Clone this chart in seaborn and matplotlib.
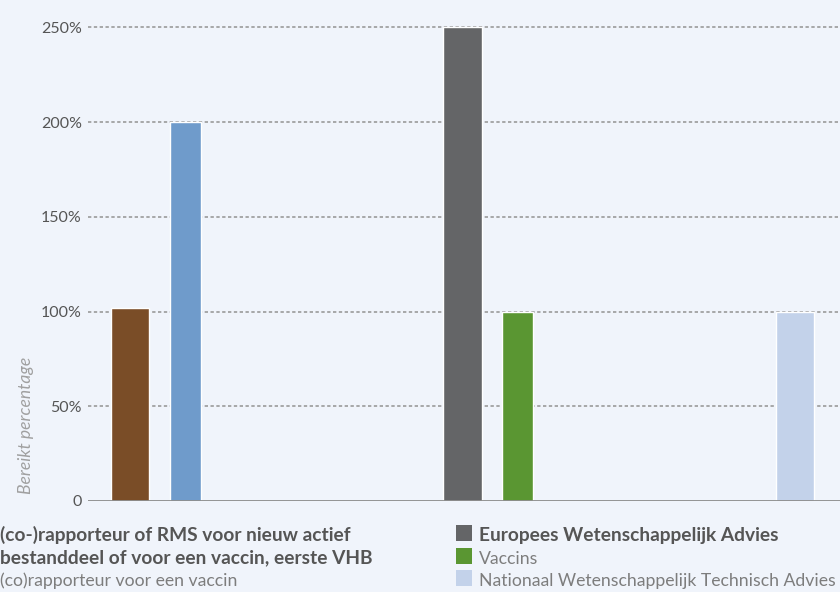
import textwrap
import numpy as np
import pandas as pd
import matplotlib
matplotlib.use("Agg")
import matplotlib.pyplot as plt
import seaborn as sns
from matplotlib import font_manager
from matplotlib.patches import Rectangle

# ---------------- data ----------------
series = [
    "(co-)rapporteur of RMS voor nieuw actief bestanddeel of voor een vaccin, eerste VHB",
    "(co)rapporteur voor een vaccin",
    "Europees Wetenschappelijk Advies",
    "Vaccins",
    "Nationaal Wetenschappelijk Technisch Advies",
]
values = [102, 200, 250, 99.5, 99.5]
colors = ["#7a4d27", "#6f9bcb", "#646567", "#5a9632", "#c3d2ea"]
is_main = [True, False, True, False, True]
is_bold = [True, False, True, False, False]
legend_column = [0, 0, 1, 1, 1]
y_ticks = [0, 50, 100, 150, 200, 250]
y_tick_labels = ["0", "50%", "100%", "150%", "200%", "250%"]
y_label = "Bereikt percentage"

# ---------------- style ----------------
BG = "#f0f4fb"
available = {f.name for f in font_manager.fontManager.ttflist}
FONT = next((f for f in ["Lato", "Roboto", "Open Sans", "DejaVu Sans"] if f in available), "DejaVu Sans")

sns.set_theme(style="white")
plt.rcParams["font.family"] = [FONT, "DejaVu Sans"]

W, H = 840, 592
fig = plt.figure(figsize=(W / 100, H / 100), dpi=100, facecolor=BG)

def px(x, y):
    return x / W, 1 - y / H

ax_left, ax_right, ax_bottom_px = 88, 840, 501
ylim_top = 262
px_per_unit = (501 - 27.3) / 250
ax_top_px = ax_bottom_px - ylim_top * px_per_unit
ax = fig.add_axes([ax_left / W, 1 - ax_bottom_px / H, (ax_right - ax_left) / W,
                   (ax_bottom_px - ax_top_px) / H])
ax.set_facecolor(BG)

# slot order: each group of bars followed by empty slots
order = [series[0], series[1], " ", "  ", "   ", "    ",
         series[2], series[3], "     ", "      ", "       ", "        ",
         series[4]]

df = pd.DataFrame({"series": series, "value": values, "main": is_main})
pal = dict(zip(series, colors))

for flag, width in [(True, 0.686), (False, 0.559)]:
    sub = df[df["main"] == flag]
    sns.barplot(data=sub, x="series", y="value", hue="series", order=order,
                hue_order=series, palette=pal, width=width, saturation=1,
                legend=False, errorbar=None, ax=ax, zorder=3)

slot_px = (795 - 130) / 12
ax.set_xlim(-(130 - 88) / slot_px, 12 + (840 - 795) / slot_px)
ax.set_ylim(0, ylim_top)

ax.set_yticks(y_ticks)
ax.set_yticklabels(y_tick_labels)
ax.set_xticks([])
ax.set_xlabel("")
ax.set_ylabel("")
ax.tick_params(axis="y", length=0, pad=4.5, labelsize=11.5, labelcolor="#555555")
for s in ax.spines.values():
    s.set_visible(False)

ax.set_axisbelow(True)
for t in y_ticks[1:]:
    ax.axhline(t, color="#9a9a9a", lw=1.2, linestyle=(0, (2.0, 1.5)), zorder=1)
ax.axhline(0, color="#8c8c8c", lw=1.3, zorder=4)

# y-axis label
x, y = px(26, 425)
fig.text(x, y, y_label, rotation=90, ha="center", va="center",
         fontsize=12.6, style="italic", color="#a0a0a0")

# legend (manual, two columns)
col_text_x = [0, 479]
line_gap = 22.5
first_baseline = 541
rows = [0, 0]
for name, col, bold, c in zip(series, legend_column, is_bold, colors):
    lines = textwrap.wrap(name, 44, break_on_hyphens=False)
    sx = col_text_x[col] - 23
    sy = first_baseline + rows[col] * line_gap
    fig.patches.append(Rectangle(px(sx, sy), 16 / W, 16 / H, transform=fig.transFigure,
                                 facecolor=c, edgecolor="none"))
    for line in lines:
        bx, by = px(col_text_x[col], first_baseline + rows[col] * line_gap)
        fig.text(bx, by, line, ha="left", va="baseline",
                 fontsize=13.8 if bold else 12.7,
                 fontweight="bold" if bold else "normal",
                 color="#555555" if bold else "#7d7d7d")
        rows[col] += 1

fig.savefig("out.png", dpi=100, facecolor=BG)
